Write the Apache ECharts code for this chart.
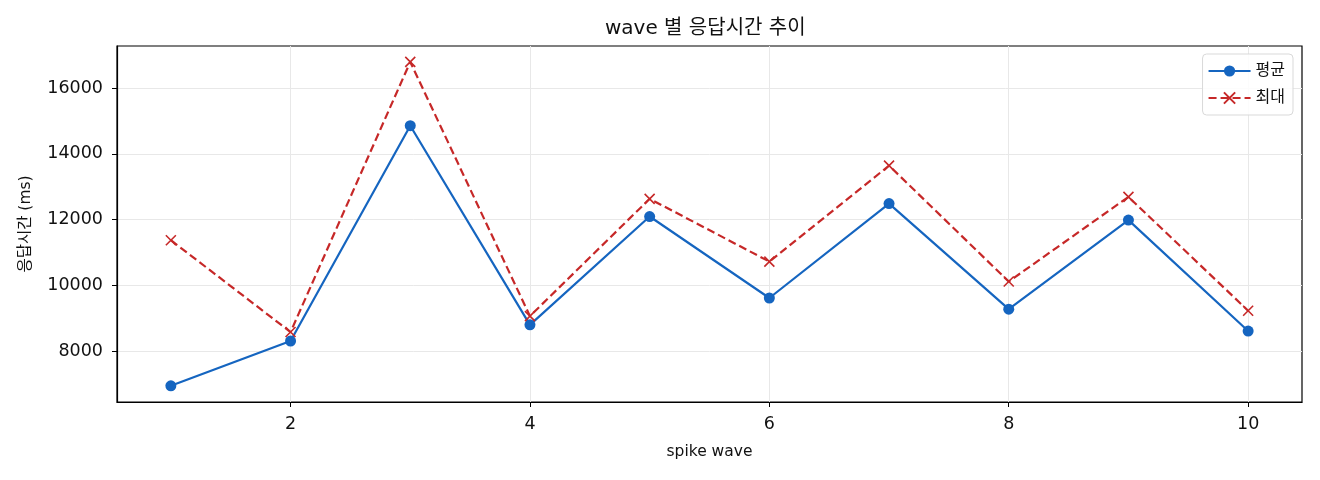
<!DOCTYPE html>
<html>
<head>
<meta charset="utf-8">
<script src="https://cdn.jsdelivr.net/npm/echarts@6/dist/echarts.min.js"></script>
<style>
html,body{margin:0;padding:0;background:#fff;}
#chart{width:1320px;height:480px;}
</style>
</head>
<body>
<div id="chart"></div>
<script>
const waves = [1, 2, 3, 4, 5, 6, 7, 8, 9, 10];
const avgValues = [6939, 8303, 14855, 8795, 12091, 9612, 12485, 9273, 11982, 8606];
const maxValues = [11370, 8576, 16795, 9060, 12630, 10720, 13640, 10112, 12688, 9225];
const xTicks = [2, 4, 6, 8, 10];
const yTicks = [8000, 10000, 12000, 14000, 16000];

const FONT = "'DejaVu Sans', 'Noto Sans CJK KR', sans-serif";
const avgData = waves.map((w, i) => [w, avgValues[i]]);
const maxData = waves.map((w, i) => [w, maxValues[i]]);

const chart = echarts.init(document.getElementById('chart'));
chart.setOption({
  animation: false,
  backgroundColor: '#fff',
  title: {
    text: 'wave 별 응답시간 추이',
    left: 605,
    top: 19,
    padding: 0,
    textStyle: {fontFamily: FONT, fontSize: 20, fontWeight: 'normal', color: '#111'}
  },
  legend: {
    right: 27,
    top: 54,
    orient: 'vertical',
    itemGap: 11,
    itemWidth: 42,
    itemHeight: 14,
    padding: [9, 8, 9, 5],
    borderColor: '#d9d9d9',
    borderWidth: 1,
    borderRadius: 4,
    backgroundColor: 'rgba(255,255,255,0.85)',
    textStyle: {fontFamily: FONT, fontSize: 16, color: '#111'},
    data: ['평균', '최대']
  },
  grid: {
    left: 117, right: 18, top: 46, bottom: 78,
    show: true, borderColor: '#000', borderWidth: 1.2, containLabel: false
  },
  xAxis: {
    type: 'value',
    min: 0.55,
    max: 10.45,
    name: 'spike wave',
    nameLocation: 'middle',
    nameGap: 42,
    nameTextStyle: {fontFamily: FONT, fontSize: 15.5, color: '#111'},
    axisLine: {show: true, lineStyle: {color: '#000', width: 1.2}},
    axisTick: {show: true, length: 5, customValues: xTicks, lineStyle: {color: '#000'}},
    axisLabel: {customValues: xTicks, fontFamily: FONT, fontSize: 17.5, color: '#111', margin: 14},
    splitLine: {show: true, customValues: xTicks, lineStyle: {color: '#e8e8e8', width: 1}}
  },
  yAxis: {
    type: 'value',
    min: 6447,
    max: 17280,
    name: '응답시간 (ms)',
    nameLocation: 'middle',
    nameGap: 83,
    nameTextStyle: {fontFamily: FONT, fontSize: 15.5, color: '#111'},
    axisLine: {show: true, lineStyle: {color: '#000', width: 1.2}},
    axisTick: {show: true, length: 5, customValues: yTicks, lineStyle: {color: '#000'}},
    axisLabel: {customValues: yTicks, formatter: v => String(v), fontFamily: FONT, fontSize: 17.5, color: '#111', margin: 14},
    splitLine: {show: true, customValues: yTicks, lineStyle: {color: '#e8e8e8', width: 1}}
  },
  series: [
    {
      name: '평균',
      type: 'line',
      data: avgData,
      symbol: 'circle',
      symbolSize: 11,
      showSymbol: true,
      itemStyle: {color: '#1565C0'},
      lineStyle: {color: '#1565C0', width: 2.2}
    },
    {
      name: '최대',
      type: 'line',
      data: maxData,
      symbol: 'path://M0,0 L10,10 M10,0 L0,10',
      symbolSize: 10,
      showSymbol: true,
      itemStyle: {color: '#C62828', borderColor: '#C62828', borderWidth: 1.6},
      lineStyle: {color: '#C62828', width: 2.2, type: [8, 4]}
    }
  ]
});
</script>
</body>
</html>
